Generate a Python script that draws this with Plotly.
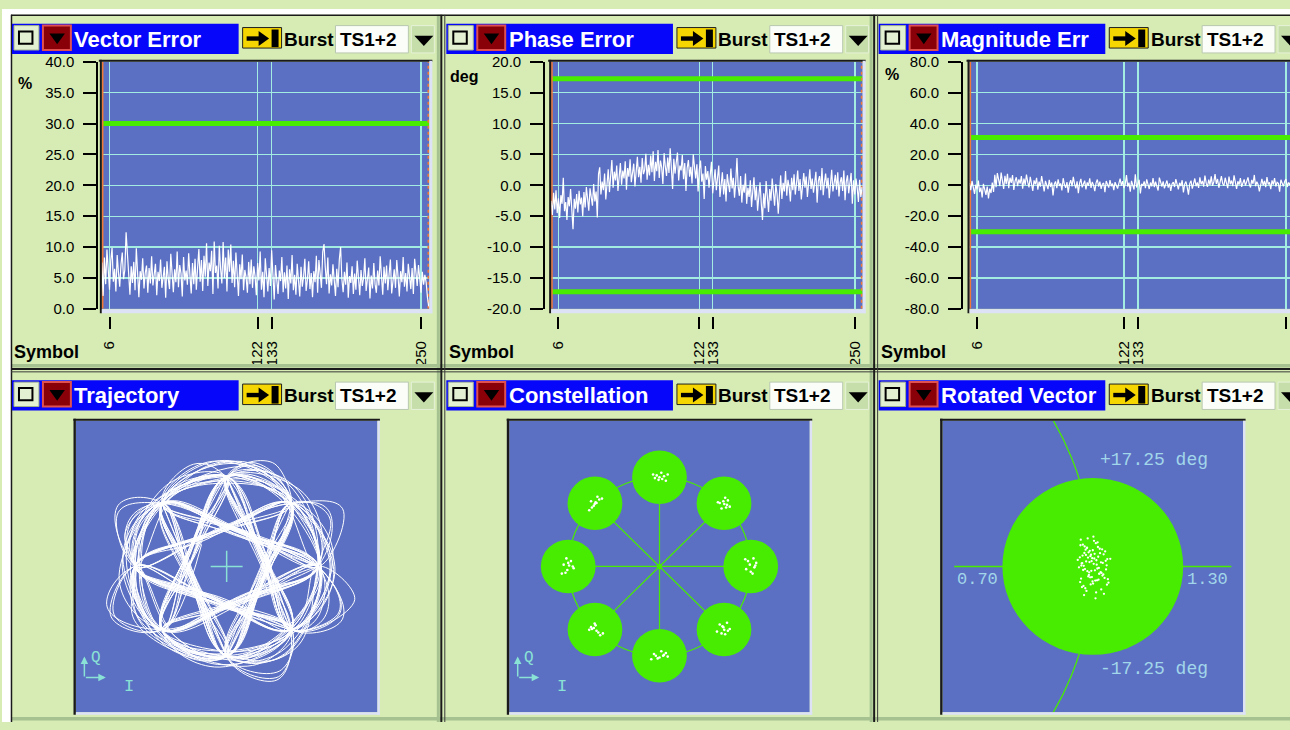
import math
import plotly.graph_objects as go

W, H = 1290, 730

# ------------------------------------------------------------------ data
PANEL_TITLES = ["Vector Error", "Phase Error", "Magnitude Err",
                "Trajectory", "Constellation", "Rotated Vector"]
Y_UNITS = ["%", "deg", "%"]
BURST_LABEL = "Burst"
BURST_NAME = "TS1+2"
X_LABEL = "Symbol"
SYMBOL_TICKS = [6, 122, 133, 250]
VE_TICKS = [0, 5, 10, 15, 20, 25, 30, 35, 40]
PE_TICKS = [-20, -15, -10, -5, 0, 5, 10, 15, 20]
ME_TICKS = [-80, -60, -40, -20, 0, 20, 40, 60, 80]
VE_LIMITS = [30.0]
PE_LIMITS = [17.25, -17.25]
ME_LIMITS = [31.0, -30.0]
BURST_START = 0.5
BURST_END = 255.8

VECTOR_ERROR = [
    7.5, 2.1, 8.3, 4.0, 9.6, 5.2, 3.1, 7.8, 9.9, 4.4, 6.5, 2.8, 8.7, 5.9, 3.6, 7.2, 9.1, 4.8, 6.3, 12.4,
    8.8, 5.1, 2.3, 6.9, 4.2, 7.6, 3.0, 9.8, 5.5, 1.9, 6.1, 4.7, 8.2, 3.3, 5.8, 7.0, 2.6, 6.6, 4.1, 8.5,
    3.8, 5.6, 7.3, 2.2, 6.0, 4.5, 8.0, 3.4, 5.3, 6.8, 1.8, 7.7, 4.9, 3.2, 8.9, 5.0, 2.7, 6.4, 4.3, 9.3,
    3.5, 7.1, 5.7, 2.0, 8.4, 4.6, 6.2, 3.9, 9.0, 5.4, 2.5, 7.4, 4.0, 8.1, 3.1, 6.7, 9.7, 4.4, 7.9, 2.9,
    8.6, 5.2, 10.6, 3.7, 7.5, 6.1, 9.4, 2.4, 10.9, 5.8, 7.0, 3.3, 10.2, 6.5, 4.1, 10.8, 5.0, 8.3, 2.8, 9.6,
    6.0, 10.4, 4.2, 7.8, 3.5, 9.1, 5.6, 2.1, 7.2, 4.8, 8.8, 3.0, 6.3, 5.1, 2.6, 7.6, 4.0, 8.0, 3.4, 6.9,
    5.3, 2.2, 7.4, 4.6, 9.3, 3.1, 6.0, 1.9, 8.2, 4.4, 2.8, 6.6, 3.7, 9.5, 5.0, 1.5, 7.1, 3.9, 2.4, 6.2,
    4.5, 8.4, 2.7, 5.9, 3.3, 7.0, 1.6, 6.4, 4.1, 8.7, 3.0, 5.5, 2.3, 7.3, 4.9, 2.0, 6.8, 3.6, 5.2, 8.1,
    2.9, 4.7, 7.7, 3.2, 5.8, 1.9, 6.1, 4.3, 8.6, 2.6, 7.9, 5.1, 3.4, 9.2, 10.5, 6.7, 4.0, 8.3, 2.5, 5.6,
    3.8, 7.2, 4.6, 2.1, 6.5, 3.5, 8.0, 10.0, 4.8, 2.7, 6.0, 3.9, 7.5, 1.8, 5.3, 4.2, 6.9, 2.4, 5.7, 3.1,
    7.8, 4.5, 2.2, 6.3, 3.7, 5.0, 8.2, 2.9, 4.4, 6.7, 1.7, 5.4, 3.3, 7.4, 4.0, 2.6, 6.2, 3.8, 8.5, 5.1,
    2.3, 6.8, 4.1, 7.0, 3.0, 5.6, 8.0, 2.5, 4.7, 6.4, 3.4, 7.9, 5.2, 2.0, 6.1, 4.3, 8.4, 3.6, 5.8, 2.8,
    7.3, 4.9, 3.2, 6.6, 2.4, 8.1, 5.0, 3.7, 7.1, 4.2, 2.6, 6.0, 3.9, 5.5, 4.3, 1.9, 0.4,
]

PHASE_ERROR = [
    -2.5, -4.8, -1.2, -3.9, -0.8, -4.5, -2.1, -5.3, -1.6, -3.0, 1.2, -4.2, -2.7, -5.6, -1.9, -3.4, -0.6, -4.9, -7.1, -2.2,
    -3.8, -1.4, -4.4, -0.9, -3.1, -2.0, -5.0, -1.1, -3.6, -0.3, -2.4, -4.1, -0.5, -1.8, -3.3, 0.2, -2.6, -1.0, -5.2, 1.8,
    2.9, -1.5, 0.6, -0.8, 1.9, -2.3, 0.3, 2.6, -1.1, 1.0, 4.1, -0.4, 2.2, 0.8, 3.2, -0.9, 1.6, 3.6, 0.1, 2.4,
    1.1, 3.9, -0.7, 2.8, 1.4, 4.2, 0.5, 2.0, 3.5, -0.2, 2.7, 4.6, 1.3, 3.0, 0.4, 4.4, 1.8, 2.5, 5.1, 0.9,
    3.3, 1.6, 4.8, 2.1, 5.5, 0.7, 3.8, 2.3, 5.7, 1.2, 4.0, 2.9, 0.2, 5.2, 3.1, 1.5, 4.5, 2.0, 6.0, 2.6,
    -0.6, 4.3, 1.9, 3.7, 5.3, 0.8, 3.2, 2.4, 4.9, 1.0, 3.6, -0.9, 2.8, 4.1, 1.4, 3.0, 0.3, 5.0, 2.2, 1.1,
    3.4, -1.0, 2.5, 4.0, 0.6, 1.9, -2.2, 3.1, 0.9, 2.3, -0.4, 1.6, 3.8, -1.3, 0.7, 2.6, -0.8, 1.3, 3.2, -1.9,
    0.4, 2.1, -1.5, 1.0, -2.6, 1.8, 0.2, -1.1, 2.7, -0.5, 1.2, -2.0, 0.6, 4.4, -0.3, -1.7, 1.5, -2.8, 0.1, -1.2,
    1.9, -3.0, -0.4, -1.9, 0.8, -3.5, -1.0, 1.3, -2.4, -0.2, -4.1, -1.6, 0.5, -2.9, -5.6, -1.3, -3.7, 0.7, -2.1, -4.3,
    -0.6, -2.5, 1.1, -1.8, -3.3, 0.2, -1.4, -4.6, -0.9, 1.6, -2.2, 0.4, -1.0, 2.3, -1.7, 0.9, -0.3, -2.6, 1.2, -0.8,
    1.8, -1.5, 0.3, 2.4, -0.9, 1.0, -2.3, 0.6, 2.0, -0.4, 1.4, -1.9, 0.8, 2.6, -0.6, 1.1, -1.2, 0.2, 2.2, -2.8,
    0.7, 1.5, -0.8, 2.8, -1.6, 0.4, 1.9, -0.5, 1.2, -2.1, 0.9, 2.5, -1.0, 0.3, 1.7, -0.7, 2.1, -1.8, 0.5, 1.3,
    -0.9, 2.4, -2.4, 0.6, 1.6, -1.3, 0.1, 2.0, -3.0, 0.8, -1.5, 1.1, -0.4, -2.7, 0.9, -1.9, -0.3,
]

MAGNITUDE_ERROR = [
    1.5, -3.2, 2.8, -1.0, -5.6, 0.4, -2.7, 3.1, -4.4, -1.5, -7.8, 0.9, -3.9, -6.2, -0.8, -8.5, -2.1, -5.0, 1.7, -4.3,
    6.8, -1.2, 7.9, 2.3, -0.6, 8.2, 3.5, -2.4, 6.1, 0.8, 7.4, -1.8, 4.9, 1.5, 6.6, -3.0, 2.7, 5.2, -0.5, 3.8,
    1.1, 6.0, -2.2, 4.4, 0.3, 7.0, 2.0, -1.4, 5.5, 1.6, -3.6, 3.2, 0.6, 4.8, -2.8, 2.4, -0.9, 5.9, 1.3, -4.0,
    2.9, 0.2, -2.5, 3.6, -1.1, 1.8, -6.5, 0.7, 2.5, -1.9, 3.9, -0.4, 1.2, -3.3, 4.6, 0.5, -1.6, 2.1, -4.8, 1.0,
    3.3, -0.7, 5.4, 0.9, -2.0, 2.6, -5.1, 1.4, 4.1, -1.3, 0.6, 3.0, -2.6, 1.9, -0.3, 4.5, -1.7, 2.2, 0.1, -3.8,
    1.6, 3.7, -0.8, 2.4, -2.3, 0.8, 1.5, -4.5, 2.8, 0.2, -1.5, 3.4, -0.6, 1.1, -3.1, 2.0, 0.4, -2.1, 1.3, 4.3,
    -0.2, 2.7, -1.8, 0.5, 6.6, -0.9, 1.7, -4.1, 2.9, 0.3, -2.7, 7.1, -1.4, 0.8, 3.6, -5.3, 1.0, -0.4, 2.5, -1.9,
    3.9, 0.6, -2.4, 1.8, -0.7, 4.7, -1.2, 2.3, 0.1, -3.4, 5.0, 1.4, -0.8, 2.6, -2.0, 0.7, 3.1, -1.5, 1.2, -3.7,
    0.9, 2.1, -1.1, 4.0, 0.2, -2.6, 1.6, -0.5, 3.3, -4.6, 0.8, 2.4, -1.3, -6.0, 1.1, 3.0, -2.2, 0.4, 4.4, -0.6,
    1.9, -1.7, 5.2, 0.6, 2.8, -0.9, 6.3, 1.4, -1.0, 3.7, 0.3, 5.8, -0.4, 2.2, 7.2, 0.9, 4.1, -1.6, 3.4, 6.0,
    1.2, -0.3, 4.9, 2.0, -1.8, 5.6, 0.7, 3.1, -0.5, 6.4, 1.8, -2.3, 2.6, 0.4, 4.7, -1.0, 1.5, 3.8, -0.2, 2.1,
    5.1, 0.8, -1.4, 3.5, 1.0, 6.7, -0.6, 2.3, 0.5, -3.9, 1.7, 4.2, -0.1, 2.9, -1.2, 5.3, 0.6, 1.9, -2.5, 3.2,
    0.4, 4.6, -0.8, 2.0, 1.3, -4.2, 3.6, 0.9, -0.7, 2.7, 4.0, -1.1, 1.8, 0.2, 3.3, -0.5, 1.4,
]

# 8-PSK ideal constellation points (I, Q)
CONST_I = [1.0, 0.7071, 0.0, -0.7071, -1.0, -0.7071, 0.0, 0.7071]
CONST_Q = [0.0, 0.7071, 1.0, 0.7071, 0.0, -0.7071, -1.0, -0.7071]
EVM_RADIUS = 0.30

CONST_DOTS_I = [
    0.97, 1.03, 1.05, 0.95, 1.06, 1.00, 0.94, 1.02, 0.99, 1.04,
    0.70, 0.74, 0.66, 0.72, 0.77, 0.68, 0.75, 0.71, 0.64, 0.73,
    -0.07, -0.03, 0.00, 0.03, 0.07, 0.02, -0.05, 0.05, 0.09, -0.01,
    -0.74, -0.70, -0.66, -0.77, -0.71, -0.68, -0.75, -0.63, -0.72, -0.69,
    -1.05, -1.01, -0.97, -1.03, -0.95, -1.00, -0.94, -1.07, -1.02, -0.99,
    -0.70, -0.74, -0.67, -0.77, -0.65, -0.71, -0.62, -0.75, -0.69, -0.72,
    -0.06, 0.00, 0.04, -0.09, 0.07, -0.02, 0.02, 0.09, -0.04, 0.05,
    0.70, 0.75, 0.66, 0.72, 0.63, 0.77, 0.68, 0.74, 0.71, 0.69,
]
CONST_DOTS_Q = [
    0.06, 0.09, 0.01, -0.03, 0.04, -0.06, 0.08, -0.08, 0.02, -0.01,
    0.73, 0.69, 0.71, 0.77, 0.67, 0.65, 0.74, 0.70, 0.72, 0.66,
    1.03, 1.02, 1.00, 0.98, 0.96, 1.05, 0.99, 1.01, 1.03, 0.97,
    0.66, 0.72, 0.75, 0.63, 0.70, 0.78, 0.73, 0.76, 0.68, 0.71,
    0.02, -0.04, 0.06, -0.07, 0.00, 0.04, -0.02, -0.08, 0.09, 0.01,
    -0.66, -0.70, -0.74, -0.71, -0.77, -0.64, -0.75, -0.68, -0.72, -0.69,
    -0.98, -1.02, -1.00, -1.04, -0.97, -1.03, -0.95, -1.01, -1.00, -0.99,
    -0.68, -0.72, -0.65, -0.76, -0.73, -0.70, -0.75, -0.63, -0.71, -0.67,
]

# burst symbol sequence (index into CONST_I / CONST_Q)
TRAJ_SYMBOLS = [
    0, 3, 5, 2, 5, 7, 4, 1, 7, 2, 5, 4, 6, 1, 7, 4, 5, 0, 2, 7, 2, 0, 1, 4, 7, 4, 6, 0, 7, 2,
    7, 5, 0, 1, 4, 2, 5, 0, 2, 7, 6, 1, 3, 0, 3, 4, 7, 5, 2, 4, 7, 2, 1, 3, 0, 3, 4, 6, 1, 7,
    2, 7, 0, 3, 5, 0, 6, 3, 6, 0, 1, 6, 1, 4, 2, 4, 7, 6, 1, 6, 0, 3, 4, 2, 5, 0, 5, 7, 6, 1,
    3, 6, 3, 4, 7, 5, 0, 2, 7, 2, 5, 4, 6, 1, 7, 0, 3, 6, 3, 5, 0, 2, 7, 1, 6, 3, 4, 7, 1, 6,
    3, 5, 2, 7, 0, 3, 1, 6, 1, 3, 0, 5, 2, 4, 7, 4, 6, 1, 2, 5, 0, 3, 6, 1, 4, 7, 5, 2, 7, 1,
    3, 6, 0, 5, 3, 0, 2, 5, 7, 4, 6, 3, 1, 6, 4, 1, 3, 5, 0, 7, 2, 4, 1, 6, 3, 0, 5, 2, 0, 3,
    5, 7, 2, 0, 6, 1, 3, 6, 4, 7, 1, 4, 6, 3, 0, 2, 7, 5, 2, 1, 6, 0, 5, 3, 6, 1, 7, 4, 2, 5,
    3, 0, 7, 2, 4, 6, 3, 1, 4, 7, 5, 0, 3, 2, 7, 4, 1, 3, 6, 0, 2, 5, 0, 6, 4, 1, 6, 3, 5, 2,
]
# signal magnitude half-way between symbols, by phase step (45 deg units)
TRAJ_MID_RADIUS = {1: 1.32, 2: 1.08, 3: 0.42}
# per-transition magnitude factor and phase skew of the half-way point
TRAJ_SWING = [
    1.04, 0.91, 1.08, 0.97, 0.88, 1.06, 1.00, 0.93, 1.10, 0.95, 1.02, 0.89, 1.07, 0.98, 0.92, 1.05, 0.96, 1.09, 0.90, 1.03,
    0.94, 1.08, 0.99, 0.87, 1.06, 1.01, 0.92, 1.10, 0.96, 1.04, 0.89, 1.07, 0.97, 1.02, 0.91, 1.09, 0.95, 1.00, 0.88, 1.05,
    1.08, 0.93, 1.03, 0.98, 0.90, 1.06, 0.94, 1.10, 0.99, 0.87, 1.04, 0.96, 1.07, 0.92, 1.01, 0.89, 1.09, 0.97, 1.05, 0.93,
    0.98, 1.06, 0.91, 1.03, 0.88, 1.08, 1.00, 0.94, 1.10, 0.95, 1.02, 0.90, 1.07, 0.97, 0.92, 1.05, 0.99, 1.09, 0.89, 1.04,
    0.96, 1.01, 0.93, 1.08, 0.87, 1.06, 0.98, 1.03, 0.91, 1.10, 0.95, 1.00, 0.88, 1.07, 0.97, 1.04, 0.92, 1.09, 0.94, 1.02,
    1.05, 0.90, 1.08, 0.96, 1.01, 0.89, 1.06, 0.93, 1.10, 0.99, 0.91, 1.03, 0.97, 1.07, 0.88, 1.04, 0.95, 1.09, 0.92, 1.00,
    0.94, 1.07, 0.98, 1.02, 0.90, 1.10, 0.96, 1.05, 0.87, 1.08, 0.99, 0.93, 1.04, 0.91, 1.06, 0.97, 1.01, 0.89, 1.09, 0.95,
    1.03, 0.92, 1.07, 0.98, 0.88, 1.05, 1.00, 0.94, 1.10, 0.96, 1.02, 0.90, 1.08, 0.93, 1.04, 0.97, 0.91, 1.06, 0.99, 1.03,
    0.89, 1.07, 0.95, 1.01, 0.92, 1.09, 0.98, 1.04, 0.87, 1.06, 0.94, 1.00, 1.08, 0.91, 1.03, 0.96, 1.10, 0.93, 1.05, 0.90,
    1.02, 0.97, 1.07, 0.88, 1.04, 0.95, 1.09, 0.99, 0.92, 1.06, 0.93, 1.05, 0.97, 1.10, 0.89, 1.02, 0.95, 1.08, 0.91, 1.04,
    0.98, 1.07, 0.88, 1.01, 0.94, 1.09, 0.96, 1.03, 0.90, 1.06, 1.00, 0.92, 1.08, 0.97, 1.04, 0.87, 1.10, 0.95, 1.02, 0.93,
    1.06, 0.99, 0.91, 1.07, 0.96, 1.03, 0.89, 1.05, 0.94, 1.08, 1.01, 0.92, 1.09, 0.97, 0.90, 1.04, 0.98, 1.06, 0.88, 1.02,
]
TRAJ_SKEW = [
    0.12, -0.25, 0.05, 0.30, -0.10, -0.32, 0.18, 0.00, -0.20, 0.27, -0.05, 0.15, -0.28, 0.22, 0.08, -0.15, 0.33, -0.02, -0.23, 0.10,
    -0.30, 0.20, 0.03, -0.12, 0.26, -0.07, 0.14, -0.34, 0.09, 0.24, -0.18, 0.01, 0.31, -0.26, 0.06, -0.09, 0.19, -0.21, 0.28, -0.04,
    0.16, -0.29, 0.07, 0.23, -0.13, 0.32, -0.01, -0.24, 0.11, 0.29, -0.16, 0.04, -0.33, 0.21, -0.06, 0.13, -0.27, 0.25, 0.02, -0.19,
    0.34, -0.11, 0.17, -0.22, 0.08, 0.27, -0.31, 0.05, -0.14, 0.20, -0.03, 0.30, -0.25, 0.12, -0.08, 0.24, -0.17, 0.01, 0.33, -0.28,
    0.09, -0.20, 0.26, -0.05, 0.15, -0.32, 0.18, -0.10, 0.22, 0.03, -0.24, 0.31, -0.13, 0.06, -0.29, 0.19, -0.02, 0.28, -0.18, 0.11,
    -0.07, 0.25, -0.30, 0.14, 0.00, -0.21, 0.32, -0.09, 0.17, -0.26, 0.07, 0.23, -0.15, 0.29, -0.04, -0.33, 0.12, 0.20, -0.12, 0.04,
    0.27, -0.23, 0.10, -0.01, 0.30, -0.17, 0.05, -0.27, 0.21, 0.13, -0.08, 0.34, -0.20, 0.02, 0.18, -0.31, 0.08, 0.26, -0.11, -0.03,
    0.22, -0.14, 0.31, -0.26, 0.06, 0.15, -0.34, 0.10, -0.06, 0.28, -0.19, 0.03, 0.24, -0.09, -0.29, 0.16, 0.00, 0.32, -0.22, 0.14,
    -0.16, 0.09, 0.26, -0.32, 0.19, -0.04, 0.12, -0.25, 0.30, 0.05, -0.13, 0.21, -0.28, 0.07, 0.33, -0.10, 0.17, -0.20, 0.02, 0.27,
    -0.06, 0.23, -0.31, 0.11, 0.29, -0.18, 0.04, -0.24, 0.15, -0.01, 0.32, -0.15, 0.08, -0.27, 0.20, 0.13, -0.09, 0.25, -0.33, 0.06,
    0.18, -0.12, 0.28, -0.05, -0.22, 0.10, 0.31, -0.29, 0.03, 0.16, -0.17, 0.24, -0.02, 0.34, -0.26, 0.09, 0.19, -0.07, -0.14, 0.30,
    -0.21, 0.01, 0.22, -0.30, 0.14, 0.27, -0.11, 0.07, -0.24, 0.17, 0.05, -0.19, 0.26, -0.08, 0.12, -0.31, 0.20, -0.03, 0.29, -0.15,
]

ROT_I = [
    1.012, 0.985, 1.031, 0.968, 1.004, 0.993, 1.046, 0.977, 1.021, 0.959,
    1.008, 0.989, 1.037, 0.972, 1.015, 0.998, 1.052, 0.981, 1.026, 0.963,
    1.002, 0.991, 1.041, 0.975, 1.018, 0.954, 1.010, 0.987, 1.033, 0.969,
    1.006, 0.995, 1.048, 0.979, 1.023, 0.961, 1.013, 0.983, 1.029, 0.966,
    1.001, 0.996, 1.044, 0.973, 1.019, 0.957, 1.009, 0.990, 1.035, 0.970,
    1.016, 0.999, 1.058, 0.982, 1.024, 0.964, 1.003, 0.992, 1.039, 0.976,
    1.020, 0.950, 1.011, 0.986, 1.032, 0.967, 1.007, 0.994, 1.047, 0.978,
    1.022, 0.960, 1.014, 0.984, 1.028, 0.965, 1.000, 0.997, 1.043, 0.974,
    1.017, 0.958, 1.005, 0.988, 1.036, 0.971, 1.027, 0.980, 1.050, 0.962,
]
ROT_Q = [
    0.021, -0.034, 0.058, -0.012, 0.087, -0.061, 0.004, 0.039, -0.025, 0.072,
    -0.048, 0.015, -0.093, 0.046, -0.007, 0.028, -0.055, 0.064, -0.019, 0.010,
    0.101, -0.037, 0.051, -0.074, 0.033, -0.003, 0.079, -0.029, 0.012, -0.066,
    0.043, -0.015, 0.025, -0.083, 0.060, -0.041, 0.006, 0.095, -0.022, 0.037,
    -0.058, 0.018, -0.010, 0.068, -0.045, 0.031, -0.108, 0.053, -0.027, 0.002,
    0.082, -0.051, 0.026, -0.016, 0.045, -0.070, 0.009, 0.035, -0.039, 0.057,
    -0.005, 0.022, -0.088, 0.048, -0.031, 0.074, -0.013, 0.040, -0.062, 0.017,
    -0.024, 0.091, -0.047, 0.030, -0.078, 0.011, 0.055, -0.036, 0.019, -0.009,
    0.066, -0.053, 0.027, -0.020, 0.041, -0.097, 0.014, 0.062, -0.043, 0.003,
]
ROT_AXIS = [0.54, 1.46]
ROT_MAG_LIMITS = [0.70, 1.30]
ROT_PHASE_LIMITS = [17.25, -17.25]

# ------------------------------------------------------------------ styles
BG = "#d6ecb4"
PLOT_BLUE = "#5b70c2"
HDR_BLUE = "#0606fa"
GREEN = "#48ec00"
GRID = "#a2ece2"
ORANGE = "#f07838"
YELLOW = "#f6d600"
CYAN = "#8ae2d6"
LBLUE = "#a2d6ea"
DARK = "#1a1a1a"
EDGE = "#dde2f6"
SANS = "Liberation Sans"
MONO = "Liberation Mono"

COL_X = [10, 445, 878]
ROW_Y = [0, 365]


def X(p):
    return p / W


def Y(p):
    return 1 - p / H


shapes = []
annotations = []


def rect(x0, y0, x1, y1, fill, lc=None, lw=0):
    shapes.append(dict(type="rect", xref="paper", yref="paper",
                       x0=X(x0), x1=X(x1), y0=Y(y1), y1=Y(y0),
                       fillcolor=fill, line=dict(color=lc or fill, width=lw)))


def hline(x0, x1, y, color, w):
    shapes.append(dict(type="line", xref="paper", yref="paper",
                       x0=X(x0), x1=X(x1), y0=Y(y), y1=Y(y),
                       line=dict(color=color, width=w)))


def vline(x, y0, y1, color, w):
    shapes.append(dict(type="line", xref="paper", yref="paper",
                       x0=X(x), x1=X(x), y0=Y(y0), y1=Y(y1),
                       line=dict(color=color, width=w)))


def poly(pts, fill):
    path = "M " + " L ".join(f"{X(a):.5f},{Y(b):.5f}" for a, b in pts) + " Z"
    shapes.append(dict(type="path", xref="paper", yref="paper", path=path,
                       fillcolor=fill, line=dict(width=0)))


def text(x, y, s, size, color, family=SANS, xanchor="left", yanchor="middle"):
    annotations.append(dict(xref="paper", yref="paper", x=X(x), y=Y(y), text=s,
                            showarrow=False, xanchor=xanchor, yanchor=yanchor,
                            borderpad=0, font=dict(family=family, size=size, color=color)))


# ------------------------------------------------------------ window chrome
rect(0, 0, W, 6, "#ffffff")
rect(0, 0, 9, H, "#ffffff")
for y0 in (363.5, 725):
    rect(9, y0, W, y0 + 3.5, "#a6c290")
for x0 in (435.5, 869):
    rect(x0, 6, x0 + 3, H, "#a6c290")
hline(9, W, 6.5, DARK, 1.5)
vline(9.5, 6, H, DARK, 1.5)
hline(9, W, 368.5, DARK, 2)
hline(9, W, 371.5, "#3a3a3a", 1)
for xv in (440, 873.5):
    vline(xv, 6, H, DARK, 2)
for xv in (443.5, 877):
    vline(xv, 6, H, "#3a3a3a", 1)


def header(cx, cy, title):
    rect(cx, cy + 15, cx + 227, cy + 46, HDR_BLUE)
    rect(cx + 2, cy + 17, cx + 27, cy + 42, "#e4f0d2", "#9fb08e", 1)
    rect(cx + 7, cy + 23, cx + 20.5, cy + 35.5, "rgba(0,0,0,0)", "#000000", 2)
    rect(cx + 31, cy + 17, cx + 59, cy + 42, "#8a0008", "#e05050", 2)
    poly([(cx + 37.5, cy + 25), (cx + 53, cy + 25), (cx + 45.25, cy + 36)], "#000000")
    text(cx + 61.5, cy + 31, f"<b>{title}</b>", 22, "#ffffff")
    rect(cx + 231, cy + 19, cx + 270, cy + 40, YELLOW, "#202020", 1)
    rect(cx + 235, cy + 28, cx + 250, cy + 32.5, "#000000")
    poly([(cx + 247, cy + 22.5), (cx + 257.5, cy + 30.2), (cx + 247, cy + 38)], "#000000")
    rect(cx + 260, cy + 21, cx + 267, cy + 39, "#000000")
    text(cx + 271.5, cy + 31, f"<b>{BURST_LABEL}</b>", 19, "#000000")
    rect(cx + 324, cy + 17, cx + 397, cy + 45, "#fbfdf9", "#b8c8b0", 1)
    text(cx + 327.5, cy + 31, f"<b>{BURST_NAME}</b>", 19, "#000000")
    rect(cx + 400, cy + 17, cx + 423, cy + 45, "#c6deaa", "#e6f2d8", 1)
    poly([(cx + 403, cy + 27.5), (cx + 422, cy + 27.5), (cx + 412.5, cy + 38)], "#000000")


for r in range(2):
    for c in range(3):
        header(COL_X[c], ROW_Y[r], PANEL_TITLES[r * 3 + c])

# ------------------------------------------------------------ top plots
TOP_GEOM = [(100, 428, 95.5), (550, 862, 543), (969, 1290, 961.5)]
X_RANGES = [[0, 256.5], [0, 256.5], [0, 253.2]]
TOP_SERIES = [VECTOR_ERROR, PHASE_ERROR, MAGNITUDE_ERROR]
TOP_TICKS = [VE_TICKS, PE_TICKS, ME_TICKS]
TOP_LIMITS = [VE_LIMITS, PE_LIMITS, ME_LIMITS]
UNIT_POS = [(15, 76.5), (448, 69), (883, 67)]
PT, PB = 54, 307

fig = go.Figure()
axes = {}

for i in range(3):
    L, R, AXX = TOP_GEOM[i]
    n = i + 1
    xa, ya = ("x", "y") if n == 1 else (f"x{n}", f"y{n}")
    xr = X_RANGES[i]
    ticks = TOP_TICKS[i]
    yr = [ticks[0], ticks[-1]]
    for lim in TOP_LIMITS[i]:
        fig.add_trace(go.Scatter(x=[xr[0], xr[1]], y=[lim, lim], mode="lines",
                                 line=dict(color=GREEN, width=5), xaxis=xa, yaxis=ya))
    fig.add_trace(go.Scatter(x=[BURST_START, BURST_START], y=yr, mode="lines",
                             line=dict(color=ORANGE, width=2), xaxis=xa, yaxis=ya))
    fig.add_trace(go.Scatter(x=[BURST_END, BURST_END], y=yr, mode="lines",
                             line=dict(color=ORANGE, width=2, dash="3px,3px"), xaxis=xa, yaxis=ya))
    s = TOP_SERIES[i]
    fig.add_trace(go.Scatter(x=list(range(len(s))), y=s, mode="lines",
                             line=dict(color="#ffffff", width=1.2), xaxis=xa, yaxis=ya))

    axes["xaxis" if n == 1 else f"xaxis{n}"] = dict(
        domain=[X(L), X(R)], range=xr, anchor="free", position=Y(314.5),
        tickmode="array", tickvals=SYMBOL_TICKS, ticktext=[str(v) for v in SYMBOL_TICKS],
        ticks="outside", ticklen=12, tickwidth=2, tickcolor="#000000", tickangle=-90,
        tickfont=dict(family=SANS, size=15, color="#000000"), ticklabelstandoff=6,
        showgrid=True, gridcolor=GRID, gridwidth=1.6, zeroline=False, showline=False,
        fixedrange=True)
    axes["yaxis" if n == 1 else f"yaxis{n}"] = dict(
        domain=[Y(PB), Y(PT)], range=yr, anchor="free", position=X(AXX),
        tickmode="array", tickvals=ticks, ticktext=[f"{v:.1f}" for v in ticks],
        ticks="outside", ticklen=13, tickwidth=2, tickcolor="#000000",
        tickfont=dict(family=SANS, size=15, color="#000000"), ticklabelstandoff=6,
        showline=True, linecolor="#000000", linewidth=2,
        showgrid=True, gridcolor=GRID, gridwidth=1.2, zeroline=False, fixedrange=True)

    hline(L - 3, R + 3, 53, DARK, 2)
    vline(L - 1, 52, 311.5, DARK, 2)
    rect(L, 307.5, R + 3, 311.5, EDGE)
    vline(R + 1.5, 53, 311.5, EDGE, 3)
    ux, uy = UNIT_POS[i]
    text(ux, uy, f"<b>{Y_UNITS[i]}</b>", 16, "#000000")
    text(COL_X[i] + 1.5, 351.5, f"<b>{X_LABEL}</b>", 18, "#000000")

# ------------------------------------------------------------ bottom plots
SQ_GEOM = [(74, 376), (508, 809), (942, 1243)]
ST, SB = 421.5, 720
IQ_SCALE = 91.4
ROT_SCALE = 301.7
SQ_CENTER = [(0.0, 0.0), (0.0, 0.0), (1.0, 0.0)]
SQ_SCALE = [IQ_SCALE, IQ_SCALE, ROT_SCALE]

for k in range(3):
    L, R = SQ_GEOM[k]
    n = k + 4
    cxv, cyv = SQ_CENTER[k]
    hx = (R - L) / 2 / SQ_SCALE[k]
    hy = (SB - ST) / 2 / SQ_SCALE[k]
    axes[f"xaxis{n}"] = dict(domain=[X(L), X(R)], range=[cxv - hx, cxv + hx], anchor=f"y{n}",
                             visible=False, fixedrange=True)
    axes[f"yaxis{n}"] = dict(domain=[Y(SB), Y(ST)], range=[cyv - hy, cyv + hy], anchor=f"x{n}",
                             visible=False, fixedrange=True)
    hline(L - 2.5, R + 2.5, ST - 1, DARK, 2)
    vline(L - 1.2, ST - 2, SB + 2.5, DARK, 2.4)
    rect(L, SB, R + 2.5, SB + 2.5, EDGE)
    vline(R + 1.2, ST, SB + 2.5, EDGE, 2.4)

# Trajectory: symbol instants and half-symbol points, joined by plotly's spline
traj_i, traj_q = [], []
for a, b, sw, sk in zip(TRAJ_SYMBOLS[:-1], TRAJ_SYMBOLS[1:], TRAJ_SWING, TRAJ_SKEW):
    step = ((b - a + 4) % 8) - 4
    ang = math.atan2(CONST_Q[a], CONST_I[a]) + step * (math.pi / 8) * (1 + sk)
    rad = TRAJ_MID_RADIUS[abs(step)] * sw
    traj_i += [CONST_I[a], rad * math.cos(ang)]
    traj_q += [CONST_Q[a], rad * math.sin(ang)]
fig.add_trace(go.Scatter(x=traj_i, y=traj_q, mode="lines",
                         line=dict(color="#ffffff", width=1, shape="spline", smoothing=1.2),
                         xaxis="x4", yaxis="y4"))
for (a0, b0, a1, b1) in [(-0.175, 0, 0.175, 0), (0, -0.175, 0, 0.175)]:
    shapes.append(dict(type="line", xref="x4", yref="y4", x0=a0, y0=b0, x1=a1, y1=b1,
                       line=dict(color=CYAN, width=1.5)))

# Constellation
shapes.append(dict(type="circle", xref="x5", yref="y5", x0=-1, x1=1, y0=-1, y1=1,
                   line=dict(color=GREEN, width=1.2), layer="below"))
for ci, cq in zip(CONST_I, CONST_Q):
    shapes.append(dict(type="circle", xref="x5", yref="y5",
                       x0=ci - EVM_RADIUS, x1=ci + EVM_RADIUS,
                       y0=cq - EVM_RADIUS, y1=cq + EVM_RADIUS,
                       fillcolor=GREEN, line=dict(color=GREEN, width=0), layer="below"))
spoke_x, spoke_y = [], []
for ci, cq in zip(CONST_I, CONST_Q):
    spoke_x += [0, ci, None]
    spoke_y += [0, cq, None]
fig.add_trace(go.Scatter(x=spoke_x, y=spoke_y, mode="lines",
                         line=dict(color=GREEN, width=1.2), xaxis="x5", yaxis="y5"))
fig.add_trace(go.Scatter(x=[0], y=[0], mode="markers",
                         marker=dict(color=GREEN, size=5), xaxis="x5", yaxis="y5"))
fig.add_trace(go.Scatter(x=CONST_DOTS_I, y=CONST_DOTS_Q, mode="markers",
                         marker=dict(color="#ffffff", size=2.6), xaxis="x5", yaxis="y5"))

for k in (0, 1):
    L = SQ_GEOM[k][0]
    annotations.append(dict(xref="paper", yref="paper", x=X(L + 8.5), y=Y(663), ax=0, ay=21.5,
                            text="", showarrow=True, arrowhead=2, arrowsize=1,
                            arrowwidth=1.5, arrowcolor=CYAN))
    annotations.append(dict(xref="paper", yref="paper", x=X(L + 30), y=Y(684.5), ax=-21.5, ay=0,
                            text="", showarrow=True, arrowhead=2, arrowsize=1,
                            arrowwidth=1.5, arrowcolor=CYAN))
    text(L + 20, 664.5, "Q", 16, CYAN, MONO, xanchor="center")
    text(L + 52.7, 694, "I", 17, CYAN, MONO, xanchor="center")

# Rotated vector
shapes.append(dict(type="circle", xref="x6", yref="y6", x0=-1, x1=1, y0=-1, y1=1,
                   line=dict(color=GREEN, width=1.3), layer="below"))
shapes.append(dict(type="line", xref="x6", yref="y6", x0=ROT_AXIS[0], x1=ROT_AXIS[1], y0=0, y1=0,
                   line=dict(color=GREEN, width=1.5), layer="below"))
rad = (ROT_MAG_LIMITS[1] - ROT_MAG_LIMITS[0]) / 2
mid = (ROT_MAG_LIMITS[1] + ROT_MAG_LIMITS[0]) / 2
shapes.append(dict(type="circle", xref="x6", yref="y6", x0=mid - rad, x1=mid + rad, y0=-rad, y1=rad,
                   fillcolor=GREEN, line=dict(color=GREEN, width=0), layer="below"))
fig.add_trace(go.Scatter(x=ROT_I, y=ROT_Q, mode="markers",
                         marker=dict(color="#ffffff", size=2.3), xaxis="x6", yaxis="y6"))
text(1099, 462, f"{ROT_PHASE_LIMITS[0]:+.2f} deg", 18, LBLUE, MONO)
text(1099, 676, f"{ROT_PHASE_LIMITS[1]:+.2f} deg", 18, LBLUE, MONO)
text(955, 584, f"{ROT_MAG_LIMITS[0]:.2f}", 17, LBLUE, MONO)
text(1186, 584, f"{ROT_MAG_LIMITS[1]:.2f}", 17, LBLUE, MONO)

fig.update_traces(hoverinfo="skip", showlegend=False)
fig.update_layout(width=W, height=H, autosize=False,
                  margin=dict(l=0, r=0, t=0, b=0, pad=0),
                  paper_bgcolor=BG, plot_bgcolor=PLOT_BLUE,
                  showlegend=False, hovermode=False,
                  shapes=shapes, annotations=annotations, **axes)

fig.write_html("out.html", include_plotlyjs=True, full_html=True,
               config={"displayModeBar": False, "staticPlot": True},
               post_script="document.body.style.margin='0px';")
